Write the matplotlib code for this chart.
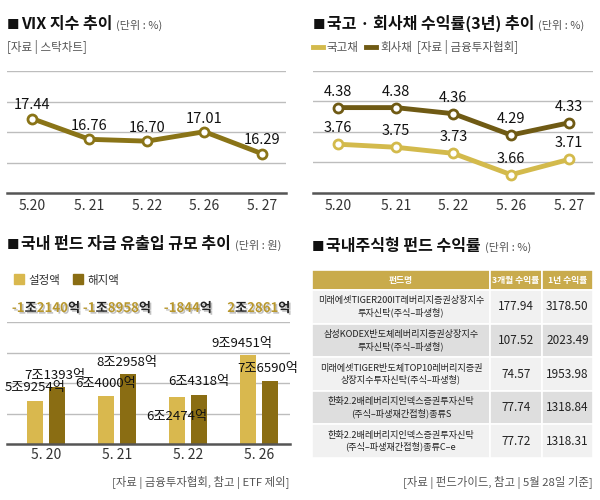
import re
import matplotlib
matplotlib.use('Agg')
import matplotlib.pyplot as plt
import matplotlib.patheffects as pe
from matplotlib.lines import Line2D
from matplotlib.patches import Rectangle
import numpy as np

plt.rcParams['font.family'] = ['Noto Sans CJK KR', 'DejaVu Sans']

# ---------------- data ----------------
vix_dates = ['5.20', '5. 21', '5. 22', '5. 26', '5. 27']
vix_values = [17.44, 16.76, 16.70, 17.01, 16.29]

bond_dates = ['5.20', '5. 21', '5. 22', '5. 26', '5. 27']
gov_yield = [3.76, 3.75, 3.73, 3.66, 3.71]
corp_yield = [4.38, 4.38, 4.36, 4.29, 4.33]

fund_dates = ['5. 20', '5. 21', '5. 22', '5. 26']
subscribed = [5.9254, 6.4000, 6.2474, 9.9451]   # 조원
redeemed = [7.1393, 8.2958, 6.4318, 7.6590]     # 조원
net_flow = [-12140, -18958, -1844, 22861]       # 억원

table_header = ['펀드명', '3개월 수익률', '1년 수익률']
fund_names = [
    '미래에셋TIGER200IT레버리지증권상장지수\n투자신탁(주식–파생형)',
    '삼성KODEX반도체레버리지증권상장지수\n투자신탁(주식–파생형)',
    '미래에셋TIGER반도체TOP10레버리지증권\n상장지수투자신탁(주식–파생형)',
    '한화2.2배레버리지인덱스증권투자신탁\n(주식–파생재간접형)종류S',
    '한화2.2배레버리지인덱스증권투자신탁\n(주식–파생재간접형)종류C–e',
]
ret_3m = [177.94, 107.52, 74.57, 77.74, 77.72]
ret_1y = [3178.50, 2023.49, 1953.98, 1318.84, 1318.31]

# ---------------- style ----------------
VIX_C = '#8a7417'
CORP_C = '#6f5a14'
GOV_C = '#d3ba4c'
SUB_C = '#d9b84e'
RED_C = '#8a6d13'
HEAD_C = '#c9ab4c'
NET_GOLD = '#b8972c'
GRID_C = '#bdbdbd'
BASE_C = '#555555'
SRC_C = '#555555'

W, H = 600, 500
fig = plt.figure(figsize=(6, 5), dpi=100)
fig.patch.set_facecolor('white')


def axes_px(l, t, r, b):
    return fig.add_axes([l / W, 1 - b / H, (r - l) / W, (b - t) / H])


def rich(x, y, pieces, ha='left'):
    rend = fig.canvas.get_renderer()
    items = []
    for s, kw, gap in pieces:
        t = fig.text(0, 0, s, va='baseline', ha='left', **kw)
        w = t.get_window_extent(rend).width
        items.append((t, w, gap))
    total = sum(w + g for _, w, g in items) - items[-1][2]
    x0 = x - {'left': 0, 'center': total / 2, 'right': total}[ha]
    for t, w, g in items:
        t.set_position((x0 / W, 1 - y / H))
        x0 += w + g


def title(x, y, main, unit):
    rich(x, y, [('■', dict(fontsize=9, fontweight='bold', color='#111'), 1.5),
                (main, dict(fontsize=11.5, fontweight='bold', color='#111'), 4),
                (unit, dict(fontsize=8, color=SRC_C), 0)])


def style_line_axes(ax):
    for s in ['left', 'right', 'top']:
        ax.spines[s].set_visible(False)
    ax.spines['bottom'].set_color(BASE_C)
    ax.spines['bottom'].set_linewidth(1.8)
    ax.grid(axis='y', color=GRID_C, lw=1)
    ax.set_axisbelow(True)
    ax.tick_params(axis='y', length=0, labelleft=False, labelright=False)
    ax.tick_params(axis='x', length=0, pad=4, labelsize=10, labelcolor='#333')
    ax.set_facecolor('none')


# ---------------- panel 1 : VIX ----------------
title(7, 29, 'VIX 지수 추이', '(단위 : %)')
rich(7, 51, [('[자료 | 스탁차트]', dict(fontsize=8.3, color=SRC_C), 0)])

ax1 = axes_px(7, 71, 286, 193)
x5 = np.arange(len(vix_values))
ax1.plot(x5, vix_values, color=VIX_C, lw=3.5, marker='o', ms=6.5, mfc='white',
         mec=VIX_C, mew=2, zorder=3, clip_on=False)
ax1.set_xlim(-0.435, 4.42)
ax1.set_ylim(15, 19)
ax1.set_yticks([16, 17, 18, 19])
ax1.set_xticks(x5)
ax1.set_xticklabels(vix_dates)
style_line_axes(ax1)
for i, v in enumerate(vix_values):
    ax1.annotate(f'{v:.2f}', (i, v), xytext=(0, 9.5), textcoords='offset points',
                 ha='center', va='center', fontsize=10.5, color='#111')

# ---------------- panel 2 : bond yields ----------------
title(313, 29, '국고 · 회사채 수익률(3년) 추이', '(단위 : %)')
fig.add_artist(Line2D([313 / W, 323 / W], [1 - 47 / H] * 2, color=GOV_C, lw=3.5))
fig.add_artist(Line2D([366 / W, 376 / W], [1 - 47 / H] * 2, color=CORP_C, lw=3.5))
rich(326, 51, [('국고채', dict(fontsize=8.3, color=SRC_C), 0)])
rich(380, 51, [('회사채', dict(fontsize=8.3, color=SRC_C), 5),
               ('[자료 | 금융투자협회]', dict(fontsize=8.3, color=SRC_C), 0)])

ax2 = axes_px(313, 71, 593, 193)
ax2b = ax2.twinx()
ax2.plot(x5, corp_yield, color=CORP_C, lw=3.5, marker='o', ms=6.5, mfc='white',
         mec=CORP_C, mew=2, zorder=3)
ax2b.plot(x5, gov_yield, color=GOV_C, lw=3.5, marker='o', ms=6.5, mfc='white',
          mec=GOV_C, mew=2, zorder=3)
ax2.set_xlim(-0.433, 4.42)
ax2.set_ylim(4.1, 4.5)
ax2.set_yticks([4.2, 4.3, 4.4, 4.5])
ax2b.set_ylim(3.6, 4.0)
ax2.set_xticks(x5)
ax2.set_xticklabels(bond_dates)
style_line_axes(ax2)
for s in ax2b.spines.values():
    s.set_visible(False)
ax2b.tick_params(axis='y', length=0, labelright=False)
for i, v in enumerate(corp_yield):
    ax2.annotate(f'{v:.2f}', (i, v), xytext=(0, 11.5), textcoords='offset points',
                 ha='center', va='center', fontsize=10.5, color='#111')
for i, v in enumerate(gov_yield):
    ax2b.annotate(f'{v:.2f}', (i, v), xytext=(0, 11.5), textcoords='offset points',
                  ha='center', va='center', fontsize=10.5, color='#111')

# ---------------- panel 3 : fund flows ----------------
title(7, 249, '국내 펀드 자금 유출입 규모 추이', '(단위 : 원)')
fig.add_artist(Rectangle((14 / W, 1 - 284 / H), 10 / W, 10 / H, color=SUB_C))
fig.add_artist(Rectangle((73 / W, 1 - 284 / H), 10 / W, 10 / H, color=RED_C))
rich(28, 284, [('설정액', dict(fontsize=8.3, color='#333'), 0)])
rich(87, 284, [('해지액', dict(fontsize=8.3, color='#333'), 0)])

ax3 = axes_px(7, 322, 290, 444)
x4 = np.arange(len(subscribed))
BW, OFF = 0.225, 0.155
bars_s = ax3.bar(x4 - OFF, subscribed, width=BW, color=SUB_C, zorder=2)
bars_r = ax3.bar(x4 + OFF, redeemed, width=BW, color=RED_C, zorder=2)
ax3.set_xlim(-0.55, 3.44)
ax3.set_ylim(2.2, 12.8)
ax3.set_yticks(np.linspace(2.2, 12.8, 5)[1:])
ax3.set_xticks(x4)
ax3.set_xticklabels(fund_dates)
style_line_axes(ax3)
ax3.tick_params(axis='x', pad=3)


def jo(v):
    n = int(round(v * 10000))
    return f'{n // 10000}조{n % 10000:04d}억'


# label offsets (px) relative to bar top centre
sub_off = [(0, 14), (0, 12), (0, -19), (-6, 11)]
red_off = [(-2, 12), (-1, 11), (0, 14), (-2, 13)]
for bars, vals, offs in [(bars_s, subscribed, sub_off), (bars_r, redeemed, red_off)]:
    for b, v, (dx, dy) in zip(bars, vals, offs):
        ax3.annotate(jo(v), (b.get_x() + b.get_width() / 2, v),
                     xytext=(dx * 0.72, dy * 0.72), textcoords='offset points',
                     ha='center', va='center', fontsize=9.5, color='#111', zorder=4)


def net_fmt(n):
    a = abs(n)
    sign = '-' if n < 0 else ''
    if a >= 10000:
        return f'{sign}{a // 10000}조{a % 10000:04d}억'
    return f'{sign}{a}억'


shadow = [pe.withSimplePatchShadow(offset=(1.2, -1.2), shadow_rgbFace='#999999', alpha=0.6)]
for i, n in enumerate(net_flow):
    xd = ax3.transData.transform((i, 0))[0]
    runs = re.findall(r'[-\d]+|[^-\d]+', net_fmt(n))
    pieces = []
    for r in runs:
        col = NET_GOLD if re.match(r'[-\d]', r) else '#222222'
        pieces.append((r, dict(fontsize=9.5, fontweight='bold', color=col,
                               path_effects=shadow), 0))
    rich(xd, 312, pieces, ha='center')

rich(290, 486, [('[자료 | 금융투자협회, 참고 | ETF 제외]', dict(fontsize=8.2, color=SRC_C), 0)],
     ha='right')

# ---------------- panel 4 : table ----------------
title(312, 251, '국내주식형 펀드 수익률', '(단위 : %)')
ax4 = axes_px(312, 270, 593, 458)
ax4.axis('off')
cells = [[nm, f'{a:.2f}', f'{b:.2f}'] for nm, a, b in zip(fund_names, ret_3m, ret_1y)]
tbl = ax4.table(cellText=cells, colLabels=table_header,
                colWidths=[0.633, 0.185, 0.182], cellLoc='center', bbox=[0, 0, 1, 1])
tbl.auto_set_font_size(False)
row_cols = ['#f1f1f1', '#dedede']
for (r, c), cell in tbl.get_celld().items():
    cell.set_edgecolor('white')
    cell.set_linewidth(1.2)
    cell.PAD = 0.02
    txt = cell.get_text()
    if r == 0:
        cell.set_height(20)
        cell.set_facecolor(HEAD_C)
        txt.set_color('white')
        txt.set_fontsize(6.3)
        txt.set_fontweight('bold')
    else:
        cell.set_height(33.6)
        cell.set_facecolor(row_cols[(r - 1) % 2])
        txt.set_color('#222')
        if c == 0:
            txt.set_fontsize(6.6)
            txt.set_linespacing(1.25)
        else:
            txt.set_fontsize(8.5)

rich(593, 486, [('[자료 | 펀드가이드, 참고 | 5월 28일 기준]', dict(fontsize=8.2, color=SRC_C), 0)],
     ha='right')

fig.savefig('out.png', dpi=100)
